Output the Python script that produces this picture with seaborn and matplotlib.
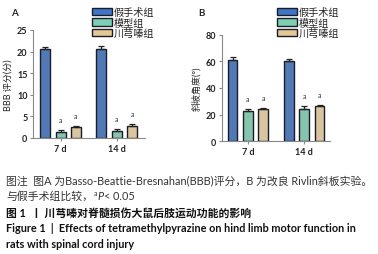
import numpy as np
import pandas as pd
import matplotlib
matplotlib.use('Agg')
import matplotlib.pyplot as plt
import seaborn as sns

# data
days = ['7 d', '14 d']
groups = ['假手术组', '模型组', '川芎嗪组']
bbb_mean = {'假手术组': [20.5, 20.7], '模型组': [1.4, 1.7], '川芎嗪组': [2.5, 2.8]}
bbb_err = {'假手术组': [0.6, 0.5], '模型组': [0.5, 0.3], '川芎嗪组': [0.3, 0.4]}
angle_mean = {'假手术组': [61.0, 60.5], '模型组': [22.5, 24.5], '川芎嗪组': [24.0, 26.3]}
angle_err = {'假手术组': [2.5, 1.5], '模型组': [1.5, 2.0], '川芎嗪组': [0.8, 0.8]}
sig_mark = {'假手术组': '', '模型组': 'a', '川芎嗪组': 'a'}
colors = ['#4075c7', '#7bceb2', '#e3c898']

sns.set_style('white')
plt.rcParams['font.family'] = ['Lato', 'Noto Sans CJK SC', 'DejaVu Sans']


def to_frame(means):
    rows = []
    for g in groups:
        for d, v in zip(days, means[g]):
            rows.append({'day': d, 'group': g, 'value': v})
    return pd.DataFrame(rows)


def draw_panel(ax, means, errs, ylim, yticks, ylabel, xlim):
    df = to_frame(means)
    sns.barplot(data=df, x='day', y='value', hue='group', order=days, hue_order=groups,
                palette=colors, errorbar=None, width=0.82, gap=0.35,
                edgecolor='#1c1c28', linewidth=1.0, legend=False, ax=ax)
    bars = sorted([p for p in ax.patches if p.get_width() > 0], key=lambda p: p.get_x())
    order = [(d, g) for d in range(len(days)) for g in groups]
    for p, (d, g) in zip(bars, order):
        xc = p.get_x() + p.get_width() / 2
        top = means[g][d]
        e = errs[g][d]
        ax.errorbar(xc, top, yerr=[[0], [e]], fmt='none', ecolor='#222222',
                    elinewidth=0.9, capsize=2.5, capthick=0.9)
        if sig_mark[g]:
            ax.annotate(sig_mark[g], (xc, top + e), xytext=(0, 5), textcoords='offset points',
                        ha='center', va='bottom', fontsize=5, color='#333333')
    ax.set_ylim(*ylim)
    ax.set_xlim(*xlim)
    ax.set_yticks(yticks)
    ax.set_xlabel('')
    ax.set_ylabel(ylabel, fontsize=6.5, labelpad=3)
    sns.despine(ax=ax)
    for s in ['left', 'bottom']:
        ax.spines[s].set_color('#888888')
        ax.spines[s].set_linewidth(0.8)
    ax.tick_params(axis='both', direction='out', length=2.5, width=0.8, color='#888888',
                   labelsize=6.5, pad=1.5, left=True, bottom=True)
    for lab in ax.get_xticklabels() + ax.get_yticklabels():
        lab.set_fontweight('bold')
        lab.set_color('#222222')


fig = plt.figure(figsize=(3.78, 2.55), dpi=100)
axA = fig.add_axes([33 / 378, 1 - 139 / 255, 112 / 378, 108 / 255])
axB = fig.add_axes([222 / 378, 1 - 142 / 255, 108 / 378, 106 / 255])

draw_panel(axA, bbb_mean, bbb_err, (0, 25), [0, 5, 10, 15, 20, 25], 'BBB 评分(分)', (-0.49, 1.5))
draw_panel(axB, angle_mean, angle_err, (0, 80), [0, 20, 40, 60, 80], '斜坡角度(°)', (-0.46, 1.46))

handles = [plt.Rectangle((0, 0), 1, 1, facecolor=c, edgecolor='#1c1c28', linewidth=1.0) for c in colors]
for x0 in [92 / 378, 277 / 378]:
    fig.legend(handles, groups, loc='upper left', bbox_to_anchor=(x0, 1 - 8 / 255),
               frameon=False, fontsize=7.3, handlelength=2.0, handleheight=0.75,
               handletextpad=0.15, labelspacing=0.05, borderpad=0, borderaxespad=0)

fig.text(11 / 378, 1 - 13 / 255, 'A', fontsize=7, fontweight='bold', ha='left', va='center')
fig.text(198 / 378, 1 - 13 / 255, 'B', fontsize=7, fontweight='bold', ha='left', va='center')

caption = [
    ('图注  图A 为Basso-Beattie-Bresnahan(BBB)评分，B 为改良 Rivlin斜板实验。', 'normal', '#333333', 181),
    ('图 1  丨 川芎嗪对脊髓损伤大鼠后肢运动功能的影响', 'bold', '#111111', 213),
    ('Figure 1  |  Effects of tetramethylpyrazine on hind limb motor function in', 'bold', '#111111', 229),
    ('rats with spinal cord injury', 'bold', '#111111', 245),
]
for txt, w, c, y in caption:
    fig.text(6 / 378, 1 - y / 255, txt, fontsize=7.8, fontweight=w, color=c, ha='left', va='center')

# second caption line: pieces placed one after another (superscript a, italic P)
renderer = fig.canvas.get_renderer()
x = 6
y2 = 1 - 196 / 255
pieces = [('与假手术组比较，', 7.8, 'normal', 0), ('a', 5, 'normal', 3), ('P', 7.8, 'italic', 0), ('< 0.05', 7.8, 'normal', 0)]
for txt, fs, style, dy in pieces:
    t = fig.text(x / 378, y2 + dy / 255, txt, fontsize=fs, style=style, color='#333333', ha='left', va='center')
    x += t.get_window_extent(renderer).width + 0.5

fig.savefig('out.png', dpi=100)
